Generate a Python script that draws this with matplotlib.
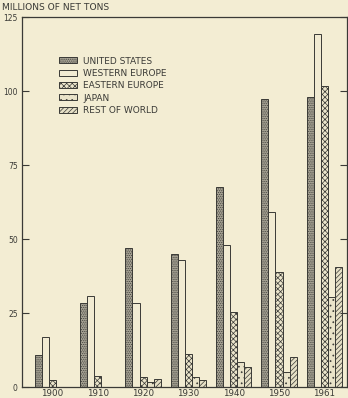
import numpy as np
import matplotlib
matplotlib.use('Agg')
from matplotlib import pyplot as plt

years = ['1900', '1910', '1920', '1930', '1940', '1950', '1961']
series_names = ['UNITED STATES', 'WESTERN EUROPE', 'EASTERN EUROPE', 'JAPAN', 'REST OF WORLD']

# millions of net tons
us = [11, 28.4, 47, 45, 67.6, 97.5, 98.2]
western_europe = [16.9, 31, 28.6, 43, 48, 59.2, 119.4]
eastern_europe = [2.5, 3.8, 3.4, 11.2, 25.3, 39.1, 101.9]
japan = [0, 0, 1.8, 3.4, 8.5, 5.2, 30.4]
rest_of_world = [0, 0, 2.7, 2.5, 6.8, 10.1, 40.7]

yticks = [0, 25, 50, 75, 100, 125]

bg = '#f3edd3'
ink = '#3a3a36'
plt.rcParams['hatch.linewidth'] = 0.5
plt.rcParams['font.family'] = ['DejaVu Sans']

fig = plt.figure(figsize=(3.48, 3.98), dpi=100, facecolor=bg)
ax = fig.add_axes([22 / 348, 10.7 / 398, 325 / 348, 370 / 398], facecolor=bg)

data = [us, western_europe, eastern_europe, japan, rest_of_world]
# fill, hatch pattern per series
styles = [
    ('#a9a596', '.........'),
    ('#f1ebd2', ''),
    ('#ebe5cb', 'xxxxxx'),
    ('#e9e3c9', '...'),
    ('#e6e0c6', '///////'),
]
x = np.arange(len(years))
w = 0.155
for i, vals in enumerate(data):
    fc, h = styles[i]
    ax.bar(x + (i - 2) * w, vals, width=w, color=fc, edgecolor=ink,
           linewidth=0.7, hatch=h, label=series_names[i])

ax.set_xlim(-0.67, 6.5)
ax.set_ylim(0, 125)
ax.set_xticks(x)
ax.set_xticklabels(years, fontsize=6.3, color=ink)
ax.tick_params(axis='x', length=0, pad=1.5)
ax.set_yticks(yticks)
ax.set_yticklabels([str(v) for v in yticks], fontsize=5.5, color=ink)
ax.tick_params(axis='y', direction='in', length=5, width=0.8, color=ink,
               pad=3, right=True)
for s in ax.spines.values():
    s.set_color(ink)
    s.set_linewidth(0.9)

fig.text(2 / 348, 1 - 8 / 398, 'MILLIONS OF NET TONS', fontsize=6.6,
         color=ink, va='center', ha='left')

leg = ax.legend(loc='upper left', bbox_to_anchor=(0.114, 0.894), frameon=False,
                fontsize=6.5, handlelength=2.0, handleheight=0.6,
                labelspacing=0.37, handletextpad=0.67, borderpad=0,
                borderaxespad=0)
for t in leg.get_texts():
    t.set_color(ink)

fig.savefig('out.png', dpi=100, facecolor=bg)
